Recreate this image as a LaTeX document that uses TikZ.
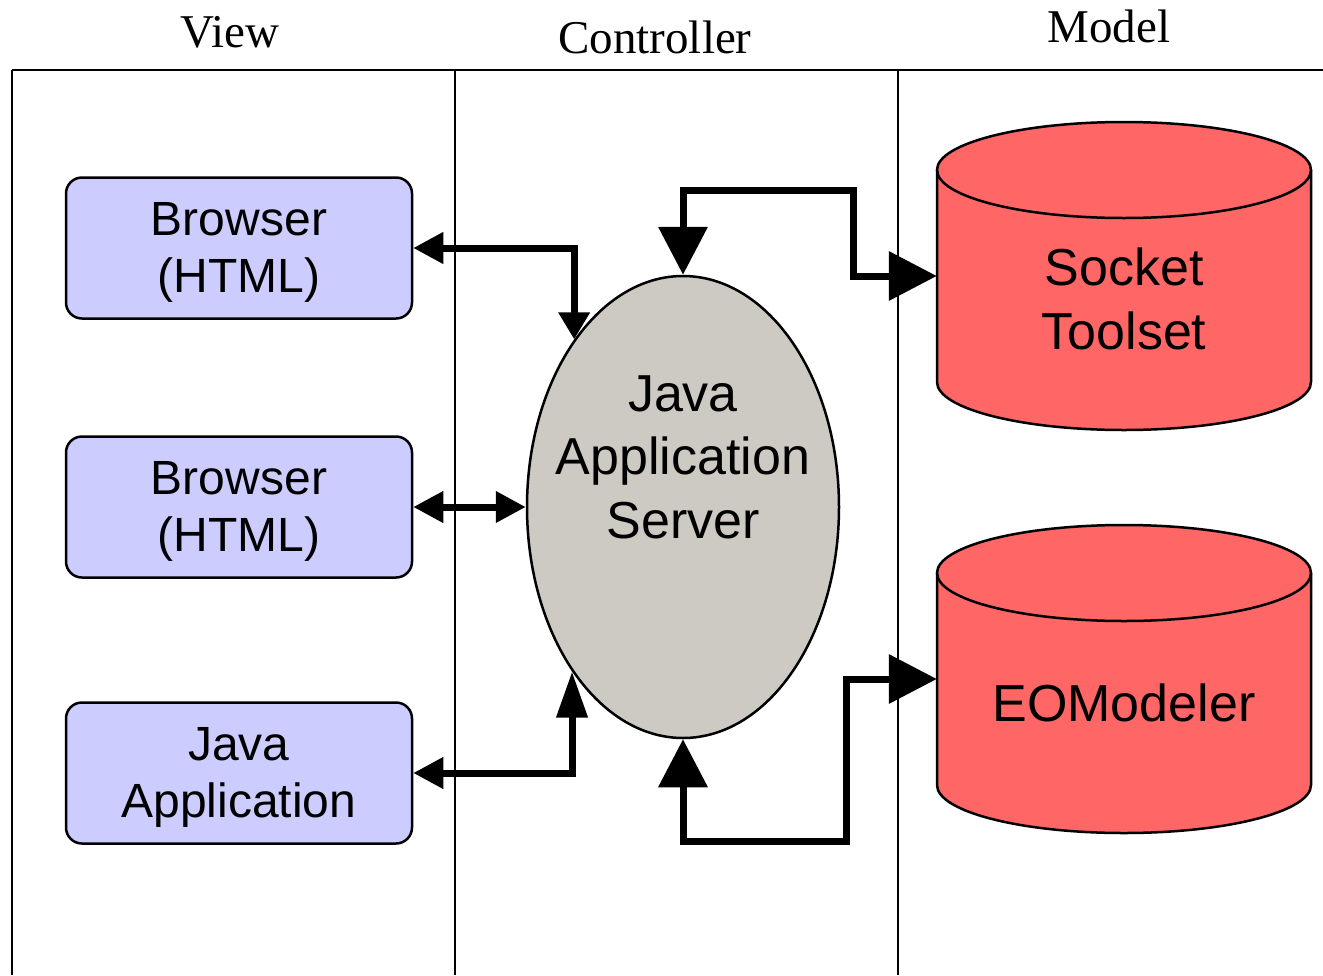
\documentclass[tikz,border=0pt]{standalone}
\usepackage{fontspec}
\setmainfont{Liberation Sans}
\newfontfamily\serifhead{Liberation Serif}
\usetikzlibrary{arrows.meta,shapes.geometric}
\definecolor{boxblue}{RGB}{204,204,255}
\definecolor{servergray}{RGB}{205,201,195}
\definecolor{dbred}{RGB}{255,102,102}
\begin{document}
\begin{tikzpicture}[x=1pt,y=1pt,
  frame/.style={line width=2.5pt},
  viewbox/.style={draw, line width=2.5pt, fill=boxblue, rounded corners=16pt,
    minimum width=346pt, minimum height=141pt, inner sep=0pt},
  boxtext/.style={align=center, yshift=-4pt, inner sep=0pt,
    font=\fontsize{48}{57}\selectfont},
  head/.style={font=\serifhead\fontsize{47}{56}\selectfont, anchor=base},
  bigtext/.style={font=\fontsize{52}{63.5}\selectfont, align=center},
  link/.style={line width=7pt},
  stip/.tip={Triangle[length=30pt,width=30pt]},
  btip/.tip={Triangle[length=48pt,width=48pt]},
  dbarea/.style={minimum width=374pt, minimum height=308pt, inner sep=0pt}
]
\useasboundingbox (0,0) rectangle (1323,-975);

% column headers
\node[head] (hview) at (230,-47) {View};
\node[head] (hctrl) at (655,-53) {Controller};
\node[head] (hmodel) at (1109,-42) {Model};

% frame
\draw[frame] (12,-70) -- (1323,-70);
\draw[frame] (12,-70) -- (12,-975);
\draw[frame] (455,-70) -- (455,-975);
\draw[frame] (898,-70) -- (898,-975);

% view boxes
\node[viewbox, label={[boxtext]center:Browser\\(HTML)}] (b1) at (239,-248) {};
\node[viewbox, label={[boxtext]center:Browser\\(HTML)}] (b2) at (239,-507) {};
\node[viewbox, label={[boxtext]center:Java\\Application}] (b3) at (239,-773) {};

% server
\node[ellipse, draw, line width=2.5pt, fill=servergray, minimum width=312pt,
  minimum height=462pt, inner sep=0pt] (jas) at (683,-507) {};
\node[bigtext] (jastext) at (683,-457) {Java\\Application\\Server};

% databases
\node[dbarea] (sock) at (1124,-276) {};
\fill[dbred] (937,-170) -- (937,-382)
  arc[start angle=180,end angle=360,x radius=187pt,y radius=48pt] -- (1311,-170)
  arc[start angle=0,end angle=180,x radius=187pt,y radius=48pt] -- cycle;
\draw[frame] (937,-170) -- (937,-382)
  arc[start angle=180,end angle=360,x radius=187pt,y radius=48pt] -- (1311,-170);
\draw[frame] (1124,-170) ellipse[x radius=187pt,y radius=48pt];
\node[bigtext] (socktext) at (1124,-299) {Socket\\Toolset};

\node[dbarea] (eom) at (1124,-679) {};
\fill[dbred] (937,-573) -- (937,-785)
  arc[start angle=180,end angle=360,x radius=187pt,y radius=48pt] -- (1311,-573)
  arc[start angle=0,end angle=180,x radius=187pt,y radius=48pt] -- cycle;
\draw[frame] (937,-573) -- (937,-785)
  arc[start angle=180,end angle=360,x radius=187pt,y radius=48pt] -- (1311,-573);
\draw[frame] (1124,-573) ellipse[x radius=187pt,y radius=48pt];
\node[bigtext] (eomtext) at (1124,-703) {EOModeler};

% connectors
\coordinate (k1) at (853,-190);
\coordinate (k2) at (846,-841);
\draw[link, stip-{Triangle[length=27pt,width=30pt]}] (b1.east) -| (jas.123.4);
\draw[link, stip-stip] (b2.east) -- (jas.west);
\draw[link, stip-{Triangle[length=46pt,width=30pt]}] (b3.east) -| (jas.236.3);
\draw[link, btip-btip] (jas.north) |- (k1) |- (sock.west);
\draw[link, btip-btip] (jas.south) |- (k2) |- (eom.west);
\end{tikzpicture}
\end{document}
